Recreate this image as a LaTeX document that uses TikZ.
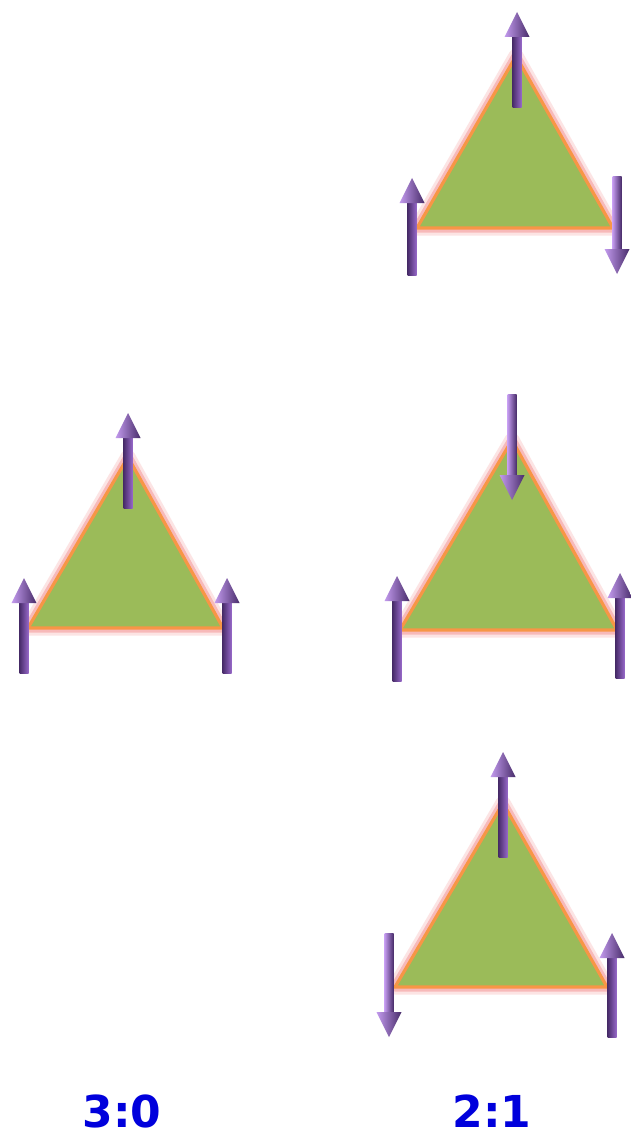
\documentclass[tikz,border=0pt]{standalone}
\usepackage{fontspec}
\newfontfamily\ratiofont{DejaVu Sans}
\usepackage{xcolor}
\definecolor{trigreen}{RGB}{155,187,89}
\definecolor{triorange}{RGB}{247,150,70}
\definecolor{triglow}{RGB}{244,150,150}
\definecolor{spindark}{RGB}{72,44,106}
\definecolor{spinmid}{RGB}{150,104,200}
\definecolor{spinlight}{RGB}{195,155,238}
\definecolor{ratioblue}{RGB}{0,0,220}

\tikzset{
  tri/.style={fill=trigreen, draw=triorange, line width=3.2pt, line join=miter},
  glow/.style={draw=triglow, line width=15pt, opacity=0.25, line join=round},
  glowin/.style={draw=triglow, line width=9pt, opacity=0.55, line join=round},
  ratio/.style={font=\ratiofont\bfseries\fontsize{44}{44}\selectfont, text=ratioblue, inner sep=0pt, anchor=base}
}

% spin arrows: x, tip y, tail y (picture y runs downwards)
\newcommand{\spinup}[3]{%
  \shade[left color=spindark, right color=spinmid] ({#1-4.5},#3) rectangle ({#1+4.5},{#2+24});
  \shade[left color=spinlight, right color=spindark] ({#1-12.5},{#2+25}) -- (#1,#2) -- ({#1+12.5},{#2+25}) -- cycle;
}
% x, tail y, tip y
\newcommand{\spindown}[3]{%
  \shade[left color=spinlight, right color=spindark] ({#1-4.5},#2) rectangle ({#1+4.5},{#3-24});
  \shade[left color=spinlight, right color=spindark] ({#1-12.5},{#3-25}) -- (#1,#3) -- ({#1+12.5},{#3-25}) -- cycle;
}
% triangle with glow: name, apex, left, right
\newcommand{\spintri}[4]{%
  \coordinate (#1a) at #2;
  \coordinate (#1l) at #3;
  \coordinate (#1r) at #4;
  \draw[glow] (#1a) -- (#1l) -- (#1r) -- cycle;
  \draw[glowin] (#1a) -- (#1l) -- (#1r) -- cycle;
  \draw[tri] (#1a) -- (#1l) -- (#1r) -- cycle;
}

\begin{document}
\begin{tikzpicture}[x=1pt, y=-1pt]
  \useasboundingbox[fill=white] (0,0) rectangle (631,1134);

  % 2:1, first
  \spintri{ta}{(516,56)}{(417,228)}{(613,228)}
  \spinup{517}{12}{108}
  \spinup{412}{178}{275}
  \spindown{617}{177}{274}

  % 3:0
  \spintri{tb}{(128,457)}{(28,628)}{(223,628)}
  \spinup{128}{413}{508}
  \spinup{24}{578}{673}
  \spinup{227}{578}{673}

  % 2:1, second
  \spintri{tc}{(512,440)}{(400,630)}{(617,630)}
  \spindown{512}{394}{500}
  \spinup{397}{576}{681}
  \spinup{620}{573}{678}

  % 2:1, third
  \spintri{td}{(503,803)}{(395,987)}{(607,987)}
  \spinup{503}{752}{857}
  \spindown{389}{933}{1037}
  \spinup{612}{933}{1037}

  \node[ratio] (zero) at (122,1127) {3:0};
  \node[ratio] (one) at (492,1127) {2:1};
\end{tikzpicture}
\end{document}
